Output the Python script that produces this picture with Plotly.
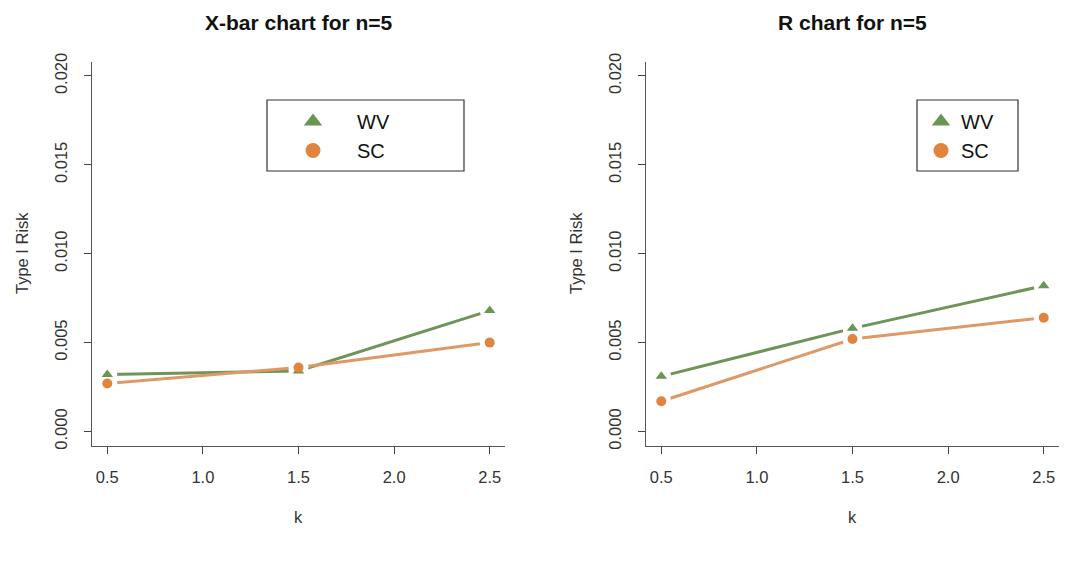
import plotly.graph_objects as go

k = [0.5, 1.5, 2.5]
xbar_wv = [0.0032, 0.0034, 0.0068]
xbar_sc = [0.0027, 0.0036, 0.0050]
r_wv = [0.0031, 0.0058, 0.0082]
r_sc = [0.0017, 0.0052, 0.0064]

titles = ["X-bar chart for n=5", "R chart for n=5"]
x_ticks = [0.5, 1.0, 1.5, 2.0, 2.5]
x_labels = ["0.5", "1.0", "1.5", "2.0", "2.5"]
y_ticks = [0.0, 0.005, 0.010, 0.015, 0.020]
y_labels = ["0.000", "0.005", "0.010", "0.015", "0.020"]

GREEN_L = "#6f9458"
GREEN_M = "#6a9653"
ORANGE_L = "#dd9a68"
ORANGE_M = "#e0843f"
FONT = "Liberation Sans, Arial, sans-serif"
W, H = 1070, 566

series = [
    ("x", "y", xbar_wv, "WV", GREEN_L, GREEN_M, "triangle-up", "legend"),
    ("x", "y", xbar_sc, "SC", ORANGE_L, ORANGE_M, "circle", "legend"),
    ("x2", "y2", r_wv, "WV", GREEN_L, GREEN_M, "triangle-up", "legend2"),
    ("x2", "y2", r_sc, "SC", ORANGE_L, ORANGE_M, "circle", "legend2"),
]

fig = go.Figure()

# lines (type = "b": gaps around the points are made by white halos)
for xa, ya, y, name, lc, mc, sym, lg in series:
    fig.add_trace(go.Scatter(x=k, y=y, mode="lines", xaxis=xa, yaxis=ya,
                             line=dict(color=lc, width=3), showlegend=False,
                             hoverinfo="skip"))
for xa, ya, y, name, lc, mc, sym, lg in series:
    fig.add_trace(go.Scatter(x=k, y=y, mode="markers", xaxis=xa, yaxis=ya,
                             marker=dict(color="white", size=20, symbol="circle"),
                             showlegend=False, hoverinfo="skip"))
for xa, ya, y, name, lc, mc, sym, lg in series:
    fig.add_trace(go.Scatter(x=k, y=y, mode="markers", xaxis=xa, yaxis=ya,
                             marker=dict(color=mc, size=10, symbol=sym),
                             showlegend=False, name=name))
    fig.add_trace(go.Scatter(x=[None], y=[None], mode="markers", xaxis=xa, yaxis=ya,
                             marker=dict(color=mc, size=18 if sym == "triangle-up" else 15,
                                         symbol=sym),
                             showlegend=True, name=name, legend=lg))

ydom = [1 - 445.7 / H, 1 - 61.7 / H]
xdom1 = [92 / W, 505 / W]
xdom2 = [646 / W, 1059 / W]

axis_common = dict(
    showline=True, linecolor="#555555", linewidth=1.2, mirror=False,
    showgrid=False, zeroline=False, ticks="outside", ticklen=7,
    tickcolor="#444444", tickwidth=1.2, automargin=False,
    tickfont=dict(family=FONT, size=16.5, color="#333333"),
)

xaxis_cfg = dict(axis_common, range=[0.42, 2.58], tickvals=x_ticks, ticktext=x_labels,
                 ticklabelstandoff=9)
yaxis_cfg = dict(axis_common, range=[-0.0008, 0.0208], tickvals=y_ticks, ticktext=y_labels,
                 tickangle=-90, ticklabelstandoff=10)

fig.update_layout(
    width=W, height=H,
    margin=dict(l=0, r=0, t=0, b=0),
    paper_bgcolor="white", plot_bgcolor="white",
    font=dict(family=FONT, color="#222222"),
    xaxis=dict(xaxis_cfg, domain=xdom1, anchor="y"),
    yaxis=dict(yaxis_cfg, domain=ydom, anchor="x"),
    xaxis2=dict(xaxis_cfg, domain=xdom2, anchor="y2"),
    yaxis2=dict(yaxis_cfg, domain=ydom, anchor="x2"),
    legend=dict(x=269 / W, y=1 - 102 / H, xanchor="left", yanchor="top",
                bgcolor="rgba(0,0,0,0)", borderwidth=0, itemwidth=78,
                font=dict(family=FONT, size=20, color="#111111"),
                tracegroupgap=0),
    legend2=dict(x=921 / W, y=1 - 102 / H, xanchor="left", yanchor="top",
                 bgcolor="rgba(0,0,0,0)", borderwidth=0, itemwidth=30,
                 font=dict(family=FONT, size=20, color="#111111"),
                 tracegroupgap=0),
    showlegend=True,
)

# legend boxes
for x0, x1 in [(267, 464), (917, 1018)]:
    fig.add_shape(type="rect", xref="paper", yref="paper",
                  x0=x0 / W, x1=x1 / W, y0=1 - 171 / H, y1=1 - 100 / H,
                  line=dict(color="#333333", width=1.2), fillcolor="rgba(0,0,0,0)")

# titles and axis titles
for cx, t, ylx in [((92 + 505) / 2, titles[0], 22), ((646 + 1059) / 2, titles[1], 576)]:
    fig.add_annotation(text="<b>" + t + "</b>", x=cx / W, y=1 - 23 / H, xref="paper", yref="paper",
                       showarrow=False, font=dict(family=FONT, size=21, color="#111111"),
                       xanchor="center", yanchor="middle")
    fig.add_annotation(text="k", x=cx / W, y=1 - 517 / H, xref="paper", yref="paper",
                       showarrow=False, font=dict(family=FONT, size=16.5, color="#333333"),
                       xanchor="center", yanchor="middle")
    fig.add_annotation(text="Type I Risk", x=ylx / W, y=1 - 253 / H, xref="paper", yref="paper",
                       showarrow=False, textangle=-90,
                       font=dict(family=FONT, size=16.5, color="#333333"),
                       xanchor="center", yanchor="middle")

fig.write_html("out.html", config={"displayModeBar": False},
               post_script="document.body.style.margin='0px';")
